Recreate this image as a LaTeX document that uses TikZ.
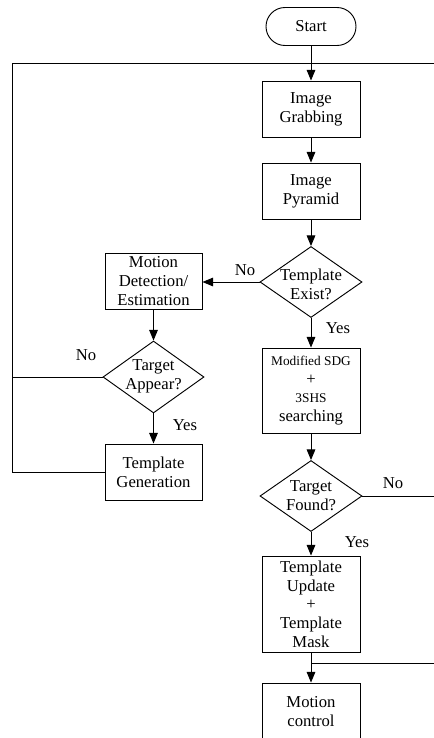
\documentclass[tikz,border=0pt]{standalone}
\usepackage{fontspec}
\setmainfont{Liberation Serif}
\usetikzlibrary{shapes.geometric,arrows.meta}
\begin{document}
\begin{tikzpicture}[x=0.75pt,y=-0.75pt, line width=0.7pt,
  box/.style={draw, rectangle, inner sep=0pt, align=center, font=\fontsize{12.5}{14.25}\selectfont, minimum width=73.5pt, minimum height=42pt},
  dia/.style={draw, diamond, inner sep=0pt, minimum width=76.5pt, minimum height=53.25pt},
  txt/.style={align=center, inner sep=0pt, font=\fontsize{12.5}{14.25}\selectfont},
  arr/.style={-{Triangle[length=8pt,width=6.5pt]}},
  lbl/.style={inner sep=0pt, font=\fontsize{12.5}{14}\selectfont}]
\useasboundingbox (0,0) rectangle (434,738);

% nodes
\node[draw, rounded corners=14.25pt, minimum width=67.5pt, minimum height=28.5pt, inner sep=0pt, font=\fontsize{12.5}{14}\selectfont] (start) at (311,26.5) {Start};
\node[box] (grab) at (311,109) {Image\\Grabbing};
\node[box] (pyr) at (311,191) {Image\\Pyramid};
\node[dia] (exist) at (311,282) {};
\node[txt] (existt) at (311,284) {Template\\Exist?};
\node[box, minimum width=72.75pt] (motion) at (153.5,281) {Motion\\Detection/\\Estimation};
\node[dia, minimum width=75.75pt, minimum height=54pt] (appear) at (153.5,377) {};
\node[txt] (appeart) at (153.5,376.5) {Target\\Appear?};
\node[box, minimum width=72.75pt] (gen) at (153.5,472) {Template\\Generation};
\node[box, minimum height=63.75pt, font=\fontsize{12.5}{14}\selectfont] (sdg) at (311,390.5) {{\fontsize{10}{12}\selectfont Modified SDG}\\+\\{\fontsize{10}{12}\selectfont 3SHS}\\searching};
\node[dia] (found) at (311,496) {};
\node[txt] (foundt) at (311,495.5) {Target\\Found?};
\node[box, minimum height=72pt, font=\fontsize{12.5}{14}\selectfont] (upd) at (311,604) {Template\\Update\\+\\Template\\Mask};
\node[box, minimum height=42.75pt] (ctrl) at (311,711.5) {Motion\\control};

% labels
\node[lbl] (l1) at (245,270) {No};
\node[lbl] (l2) at (338,328) {Yes};
\node[lbl] (l3) at (86,355) {No};
\node[lbl] (l4) at (185,425) {Yes};
\node[lbl] (l5) at (393,483) {No};
\node[lbl] (l6) at (357,542) {Yes};

% coordinates for loop lines
\coordinate (tl) at (12,63);
\coordinate (tr) at (434,63);
\coordinate (bl) at (12,472);
\coordinate (al) at (12,377);
\coordinate (fr) at (434,496);
\coordinate (ub) at (311,663);
\coordinate (ur) at (434,663);

% connectors
\draw[arr] (start) -- (grab);
\draw[arr] (grab) -- (pyr);
\draw[arr] (pyr) -- (exist);
\draw[arr] (exist.west) -- (exist.west -| motion.east);
\draw[arr] (exist.south) -- (sdg.north);
\draw[arr] (motion) -- (appear);
\draw[arr] (appear.south) -- (gen.north);
\draw (appear.west) -- (al);
\draw (gen.west) -- (bl) -- (tl) -- (tr);
\draw[arr] (sdg) -- (found);
\draw (found.east) -- (fr);
\draw[arr] (found.south) -- (upd.north);
\draw[arr] (upd) -- (ctrl);
\draw (ub) -- (ur);
\end{tikzpicture}
\end{document}
